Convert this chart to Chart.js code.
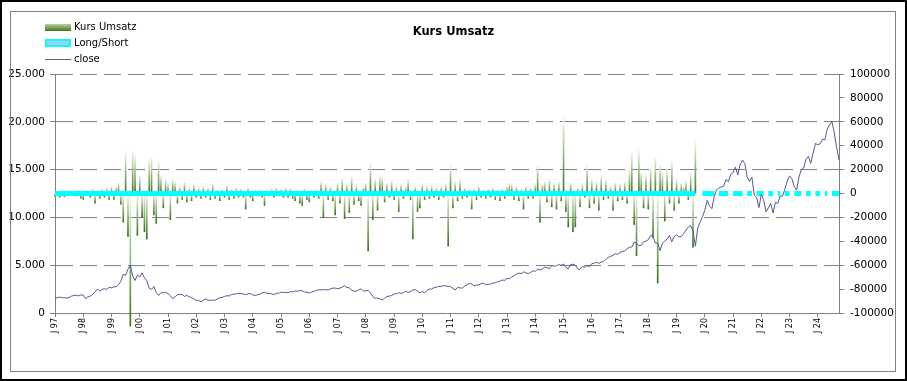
<!DOCTYPE html>
<html>
<head>
<meta charset="utf-8">
<title>Kurs Umsatz</title>
<script src="https://cdn.jsdelivr.net/npm/chart.js@4.4.1/dist/chart.umd.min.js"></script>
<style>
    body { margin: 0; background: #fff; font-family: 'DejaVu Sans', sans-serif; }
    #wrap { position: relative; width: 907px; height: 381px; overflow: hidden; }
    #kurs_umsatz { position: absolute; left: 0; top: 0; }
    .frame { position: absolute; left: 0; top: 0; width: 907px; height: 381px; border: 2px solid #000; box-sizing: border-box; pointer-events: none; }
    .inner { position: absolute; left: 10px; top: 11px; width: 886px; height: 361px; border: 1px solid #808080; box-sizing: border-box; pointer-events: none; }
    .title { position: absolute; left: 0; top: 24px; width: 907px; text-align: center; font-weight: bold; font-size: 11.5px; color: #000; }
    .lg { position: absolute; left: 45px; font-size: 10px; color: #000; line-height: 12px; }
    .lg span.sw { position: absolute; left: 0; box-sizing: border-box; }
    .lg span.tx { position: absolute; left: 29px; top: 0; white-space: nowrap; }
</style>
</head>
<body>
<div id="wrap">
    <canvas id="kurs_umsatz" width="907" height="381"></canvas>
    <div class="inner"></div>
    <div class="title">Kurs Umsatz</div>
    <div class="lg" style="top:21px"><span class="sw" style="top:3px;width:26px;height:7px;background:linear-gradient(#b9d29c,#3f7320)"></span><span class="tx">Kurs Umsatz</span></div>
    <div class="lg" style="top:37px"><span class="sw" style="top:2px;width:26px;height:8px;background:#a6caf0;border:2px solid #00ffff"></span><span class="tx">Long/Short</span></div>
    <div class="lg" style="top:53px"><span class="sw" style="top:6px;width:26px;height:1px;background:#5e5e9a"></span><span class="tx">close</span></div>
    <div class="frame"></div>
</div>
<script>
// Jahres-Beschriftung der x-Achse (je 12 Monatswerte)
let year_labels = ['J 97', 'J 98', 'J 99', 'J 00', 'J 01', 'J 02', 'J 03', 'J 04', 'J 05', 'J 06',
    'J 07', 'J 08', 'J 09', 'J 10', 'J 11', 'J 12', 'J 13', 'J 14', 'J 15', 'J 16',
    'J 17', 'J 18', 'J 19', 'J 20', 'J 21', 'J 22', 'J 23', 'J 24'];

// close (linke Achse), eine Zeile = 12 Monate
let close_values = [
    1594, 1587, 1686, 1593, 1601, 1570, 1619, 1771, 1835, 1868, 1779, 1895,
    1872, 1499, 1694, 1771, 1950, 2193, 2505, 2288, 2461, 2543, 2471, 2686,
    2638, 2739, 2746, 2966, 3336, 4069, 3940, 4600, 5000, 3861, 3401, 3966,
    3767, 4206, 3673, 3370, 2598, 2471, 2773, 2152, 1840, 2116, 2110, 2161,
    2027, 1805, 1499, 1690, 1931, 1950, 1934, 1731, 1845, 1688, 1616, 1463,
    1328, 1315, 1172, 1330, 1479, 1336, 1321, 1338, 1341, 1464, 1596, 1623,
    1735, 1810, 1787, 1932, 1960, 2003, 2066, 2030, 1994, 1920, 1987, 2048,
    1887, 1838, 1897, 1975, 2096, 2175, 2062, 2052, 1999, 1922, 2068, 2057,
    2185, 2152, 2151, 2120, 2233, 2205, 2306, 2281, 2340, 2323, 2179, 2172,
    2091, 2184, 2258, 2367, 2432, 2415, 2464, 2416, 2422, 2525, 2605, 2603,
    2546, 2596, 2702, 2859, 2661, 2652, 2389, 2271, 2279, 2413, 2523, 2293,
    2326, 2368, 2092, 1721, 1536, 1577, 1476, 1378, 1529, 1717, 1774, 1835,
    1979, 2009, 2122, 2045, 2145, 2269, 2147, 2238, 2398, 2461, 2257, 2109,
    2255, 2114, 2369, 2507, 2498, 2653, 2700, 2782, 2781, 2874, 2835, 2774,
    2756, 2579, 2415, 2684, 2620, 2605, 2814, 2967, 3091, 3046, 2827, 2935,
    2940, 3067, 3116, 2977, 3010, 3020, 3142, 3160, 3268, 3329, 3456, 3403,
    3626, 3590, 3771, 3920, 4060, 4177, 4104, 4308, 4199, 4115, 4243, 4408,
    4370, 4580, 4493, 4631, 4792, 4736, 4635, 4964, 4901, 4941, 5070, 4987,
    5128, 4777, 4620, 5054, 5109, 5007, 4614, 4558, 4870, 4775, 4948, 4843,
    5162, 5213, 5312, 5189, 5324, 5383, 5615, 5825, 5912, 6048, 6199, 6140,
    6348, 6429, 6496, 6728, 6874, 6903, 7411, 7273, 7063, 7066, 7442, 7510,
    7672, 8110, 8046, 7306, 7331, 6500, 7282, 7533, 7729, 8095, 7453, 8006,
    8175, 7963, 7999, 8292, 8665, 8973, 9151, 8567, 7000, 8890, 9490, 10059,
    10745, 11775, 11168, 10912, 12199, 12888, 13070, 13192, 13247, 13962, 13749, 14504,
    14673, 15259, 14448, 15498, 16000, 15645, 14240, 13751, 14221, 12335, 12081, 11029,
    12391, 11816, 10576, 10988, 11468, 10466, 11585, 11456, 12222, 12227, 12935, 13788,
    14346, 14035, 13219, 12851, 14226, 15011, 15164, 16092, 16379, 15658, 16735, 17733,
    17599, 17714, 18189, 18095, 19218, 19700, 20000, 18847, 17299, 16000
];

// Kurs Umsatz (rechte Achse), endet 2020
let umsatz_values = [
    -2000, 1500, -3000, 1000, -2500, 2000, -1500, 1000, 2000, -2000, 3000, -4000,
    -5000, 3000, 2000, -3000, 4000, -8000, 2000, -4000, 4000, -3000, 5000, -5000,
    6000, -5000, 6000, 9000, -9000, -24000, 35000, -36000, -111000, 35000, 32000, -35000,
    15000, -20000, -32000, -38000, 28000, 30000, -18000, -25000, 27000, 15000, -12000, 12000,
    8000, -22000, 12000, 10000, -8000, 6000, -5000, 10000, -7000, 5000, -6000, 8000,
    -3000, 5000, -4000, 6000, -3000, 5000, -5000, 8000, -4000, 3000, -6000, 4000,
    -3000, 7000, -5000, 4000, -4000, 5000, -3000, 4000, -3000, -13000, 5000, -3000,
    -6000, 3000, -2000, 3000, -3000, -10000, 3000, -2000, 4000, -3000, 5000, -2000,
    4000, -3000, 5000, -3000, 4000, -4000, -6000, 3000, -8000, -10000, 4000, -5000,
    -7000, 3000, -3000, 3000, -4000, 10000, -20000, 8000, -5000, 6000, -6000, -18000,
    9000, -8000, 13000, -21000, 8000, -16000, 14000, -9000, 7000, -6000, -10000, 6000,
    9000, -48000, 25000, -22000, 12000, -14000, 15000, 14000, -7000, 9000, -3000, 11000,
    -5000, 6000, -15000, 8000, -4000, 6000, 12000, -5000, -38000, 6000, -15000, -12000,
    8000, -5000, 6000, -4000, 7000, -3000, 5000, -5000, 6000, -3000, 8000, -44000,
    24000, -12000, 10000, -6000, 12000, -4000, 5000, -3000, 4000, -13000, 4000, -5000,
    6000, -3000, 3000, -4000, 4000, -3000, 5000, -5000, 3000, -6000, 4000, -4000,
    6000, 9000, 8000, -5000, 6000, -6000, 4000, -13000, 6000, -4000, 5000, -4000,
    8000, 24000, -24000, 8000, 10000, -7000, 12000, -11000, 9000, -13000, 10000, -6000,
    63000, -15000, -28000, 9000, -32000, -28000, 5000, -11000, 8000, -3000, 24000, -12000,
    12000, -8000, 10000, -14000, 15000, -5000, 12000, -4000, 6000, -14000, 9000, -6000,
    8000, -5000, 10000, -8000, 20000, 34000, -26000, -52000, 36000, 18000, -12000, 16000,
    -13000, 22000, -37000, 30000, -75000, 24000, 18000, -23000, 20000, -8000, 27000, -14000,
    12000, -8000, 9000, 6000, 11000, -5000, 17000, -45000, 43000
];

// Long/Short (rechte Achse), Lücken = keine Position
let longshort_values = [
    0, 0, 0, 0, 0, 0, 0, 0, 0, 0, 0, 0,
    0, 0, 0, 0, 0, 0, 0, 0, 0, 0, 0, 0,
    0, 0, 0, 0, 0, 0, 0, 0, 0, 0, 0, 0,
    0, 0, 0, 0, 0, 0, 0, 0, 0, 0, 0, 0,
    0, 0, 0, 0, 0, 0, 0, 0, 0, 0, 0, 0,
    0, 0, 0, 0, 0, 0, 0, 0, 0, 0, 0, 0,
    0, 0, 0, 0, 0, 0, 0, 0, 0, 0, 0, 0,
    0, 0, 0, 0, 0, 0, 0, 0, 0, 0, 0, 0,
    0, 0, 0, 0, 0, 0, 0, 0, 0, 0, 0, 0,
    0, 0, 0, 0, 0, 0, 0, 0, 0, 0, 0, 0,
    0, 0, 0, 0, 0, 0, 0, 0, 0, 0, 0, 0,
    0, 0, 0, 0, 0, 0, 0, 0, 0, 0, 0, 0,
    0, 0, 0, 0, 0, 0, 0, 0, 0, 0, 0, 0,
    0, 0, 0, 0, 0, 0, 0, 0, 0, 0, 0, 0,
    0, 0, 0, 0, 0, 0, 0, 0, 0, 0, 0, 0,
    0, 0, 0, 0, 0, 0, 0, 0, 0, 0, 0, 0,
    0, 0, 0, 0, 0, 0, 0, 0, 0, 0, 0, 0,
    0, 0, 0, 0, 0, 0, 0, 0, 0, 0, 0, 0,
    0, 0, 0, 0, 0, 0, 0, 0, 0, 0, 0, 0,
    0, 0, 0, 0, 0, 0, 0, 0, 0, 0, 0, 0,
    0, 0, 0, 0, 0, 0, 0, 0, 0, 0, 0, 0,
    0, 0, 0, 0, 0, 0, 0, 0, 0, 0, 0, 0,
    0, 0, 0, 0, 0, 0, 0, 0, 0, null, null, 0,
    0, 0, 0, 0, 0, null, 0, 0, 0, 0, 0, null,
    0, 0, 0, 0, 0, null, 0, 0, 0, null, 0, 0,
    0, 0, null, 0, 0, 0, null, 0, 0, null, 0, 0,
    0, null, 0, 0, 0, 0, null, 0, 0, 0, null, 0,
    0, 0, null, 0, 0, null, 0, 0, 0, 0
];

// Monats-Kategorien ab Juli 1997
let months = [];
for (let i = 0; i < close_values.length; i++) {
    let m = (6 + i) % 12 + 1;
    let y = 1997 + Math.floor((6 + i) / 12);
    months.push(y + '-' + (m < 10 ? '0' + m : m));
}

function format_de(v) {
    return String(v).replace(/\B(?=(\d{3})+(?!\d))/g, '.');
}

// Farbverlauf je Balken: oben hell, unten dunkelgrün
function umsatz_gradient(context) {
    let chart = context.chart;
    let scale = chart.scales.yR;
    if (!scale || context.raw == null) {
        return '#6a9a3a';
    }
    let top = scale.getPixelForValue(Math.max(context.raw, 0));
    let bottom = scale.getPixelForValue(Math.min(context.raw, 0));
    if (!isFinite(top) || !isFinite(bottom)) {
        return '#6a9a3a';
    }
    if (bottom - top < 1) {
        bottom = top + 1;
    }
    let g = chart.ctx.createLinearGradient(0, top, 0, bottom);
    g.addColorStop(0, '#f2f7ea');
    g.addColorStop(1, '#357318');
    return g;
}

Chart.defaults.font.family = "'DejaVu Sans', sans-serif";
Chart.defaults.color = '#000';

let data = {
    labels: months,
    datasets: [{
        type: 'line',
        label: 'close',
        data: close_values,
        yAxisID: 'yL',
        borderColor: '#58588f',
        borderWidth: 1,
        pointRadius: 0,
        tension: 0,
        order: 1
    }, {
        type: 'line',
        label: 'Long/Short',
        data: longshort_values,
        yAxisID: 'yR',
        borderColor: '#00ffff',
        borderWidth: 5,
        borderCapStyle: 'butt',
        pointRadius: 0,
        spanGaps: false,
        order: 2
    }, {
        type: 'bar',
        label: 'Kurs Umsatz',
        data: umsatz_values,
        yAxisID: 'yR',
        backgroundColor: umsatz_gradient,
        barThickness: 1,
        clip: false,
        order: 3
    }]
};

let config = {
    type: 'bar',
    data: data,
    options: {
        responsive: false,
        animation: false,
        layout: { padding: { top: 74, left: 0, right: 0, bottom: 0 } },
        plugins: {
            legend: { display: false },
            title: { display: false },
            tooltip: { enabled: false }
        },
        scales: {
            x: {
                type: 'category',
                offset: false,
                afterFit: function (s) { s.height = 68; },
                grid: {
                    offset: false,
                    drawOnChartArea: false,
                    tickLength: 4,
                    tickColor: function (c) { return c.index % 12 === 0 ? '#808080' : 'rgba(0,0,0,0)'; }
                },
                border: { color: '#808080' },
                ticks: {
                    autoSkip: false,
                    minRotation: 90,
                    maxRotation: 90,
                    padding: 1,
                    font: { size: 8 },
                    callback: function (v, i) { return i % 12 === 0 ? year_labels[i / 12] : ''; }
                }
            },
            yL: {
                position: 'left',
                min: 0,
                max: 25000,
                afterFit: function (s) { s.width = 55; },
                grid: {
                    color: function (c) { return c.tick && c.tick.value === 0 ? 'rgba(0,0,0,0)' : '#808080'; },
                    tickColor: '#808080',
                    tickLength: 5,
                    tickBorderDash: []
                },
                border: { color: '#808080', dash: [17, 7] },
                ticks: {
                    stepSize: 5000,
                    padding: 5,
                    font: { size: 10.5 },
                    callback: function (v) { return format_de(v); }
                }
            },
            yR: {
                position: 'right',
                min: -100000,
                max: 100000,
                afterFit: function (s) { s.width = 68; },
                grid: {
                    drawOnChartArea: false,
                    tickColor: '#808080',
                    tickLength: 5
                },
                border: { color: '#808080' },
                ticks: {
                    stepSize: 20000,
                    padding: 6,
                    font: { size: 10.5 },
                    callback: function (v) { return String(v); }
                }
            }
        }
    }
};

let kursumsatz_chart = new Chart(document.getElementById('kurs_umsatz'), config);
</script>
</body>
</html>
